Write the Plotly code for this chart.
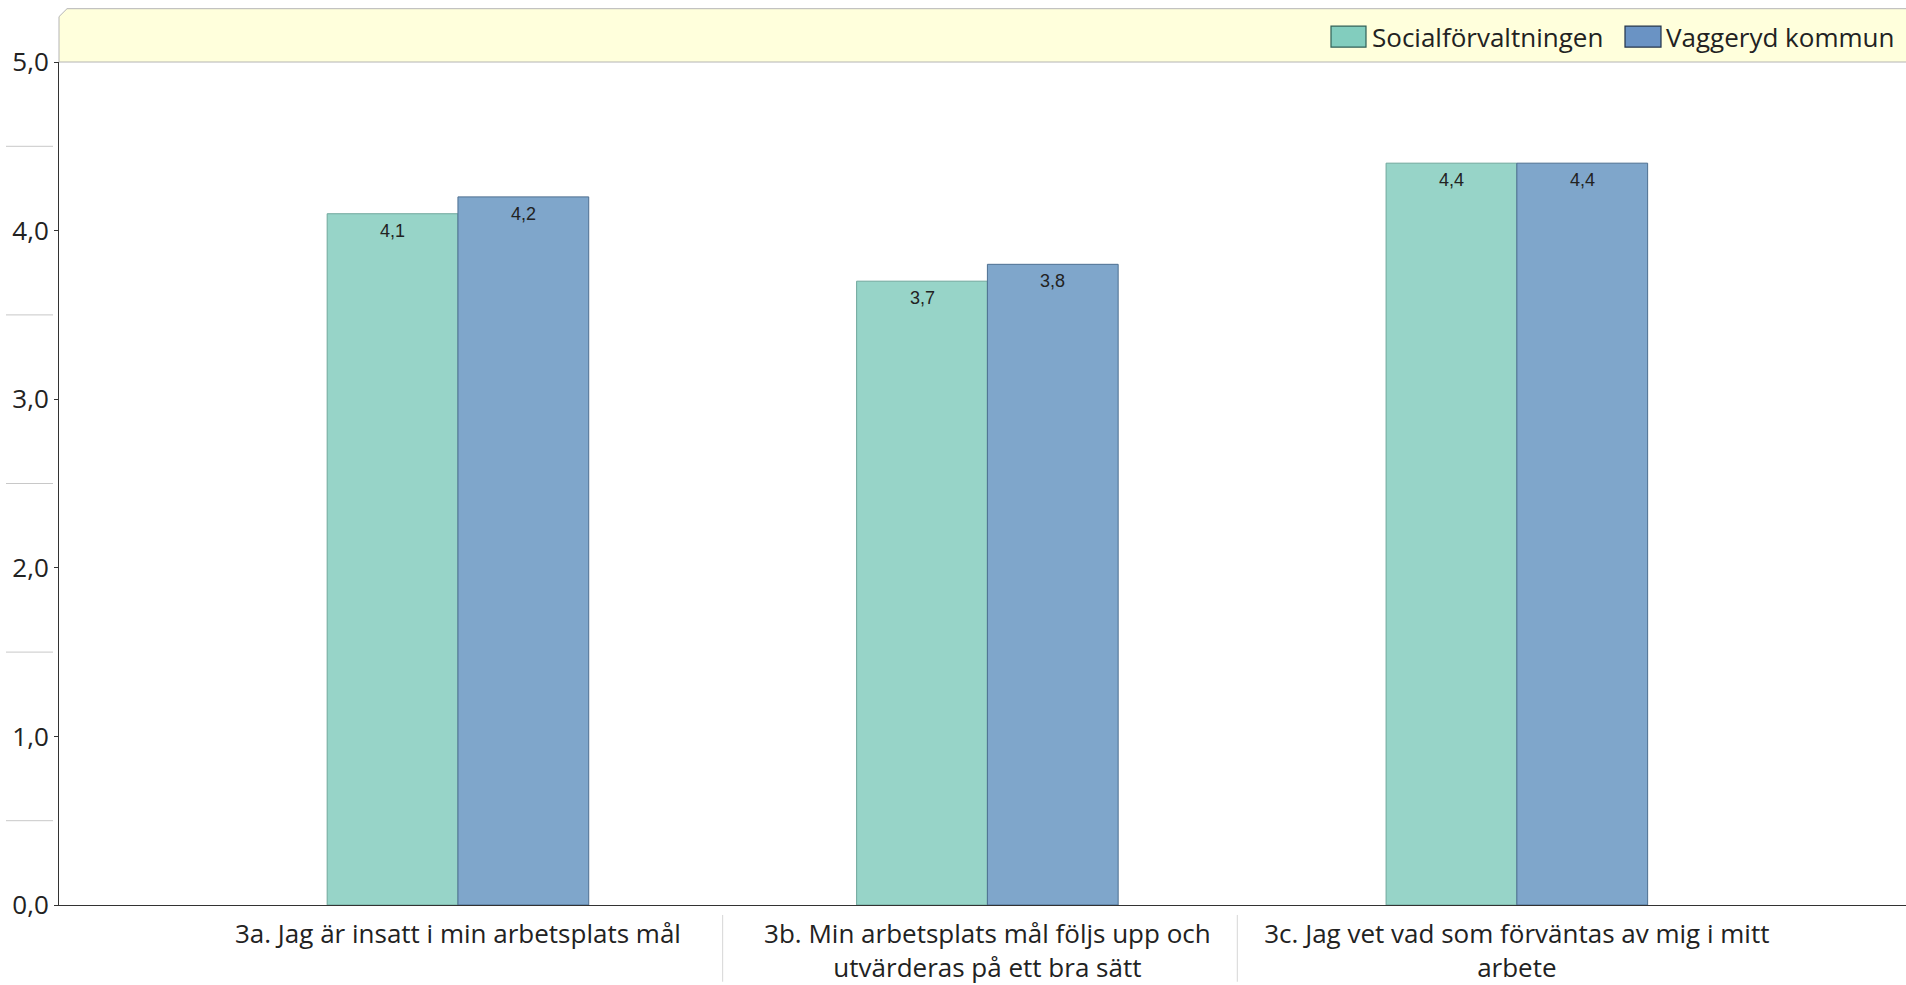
import plotly.graph_objects as go

# ---- data ----
categories = [
    "3a. Jag är insatt i min arbetsplats mål",
    "3b. Min arbetsplats mål följs upp och<br>utvärderas på ett bra sätt",
    "3c. Jag vet vad som förväntas av mig i mitt<br>arbete",
]
series_names = ["Socialförvaltningen", "Vaggeryd kommun"]
social_values = [4.1, 3.7, 4.4]
vaggeryd_values = [4.2, 3.8, 4.4]
y_tick_values = [0, 1, 2, 3, 4, 5]
y_minor_values = [0.5, 1.5, 2.5, 3.5, 4.5]
separator_positions = [0.5, 1.472]

# ---- style ----
W, H = 1906, 985
ML, MR, MT, MB = 59, 0, 62, 77
PW, PH = W - ML - MR, H - MT - MB
FONT = "Open Sans"
FS = 26
XRANGE = [-0.7535, 2.735]
BARGAP = 0.506
teal_fill, teal_line = "#97D4C8", "#6FA79C"
blue_fill, blue_line = "#7FA6CB", "#4D6F91"


def px_x(px):
    return (px - ML) / PW


def px_y(py):
    return (H - MB - py) / PH


fig = go.Figure()
series = [
    (series_names[0], social_values, teal_fill, teal_line),
    (series_names[1], vaggeryd_values, blue_fill, blue_line),
]
for name, vals, fill, line in series:
    fig.add_bar(
        x=categories, y=vals, name=name,
        marker=dict(color=fill, line=dict(color=line, width=1)),
    )

annotations = []
# value labels just inside the top of each bar
bar_w_px = (1 - BARGAP) / len(series) * PW / (XRANGE[1] - XRANGE[0])
for i, (name, vals, fill, line) in enumerate(series):
    offset = (i - (len(series) - 1) / 2) * bar_w_px
    for cat, v in zip(categories, vals):
        annotations.append(dict(
            x=cat, y=v, xref="x", yref="y", text=f"{v:.1f}".replace(".", ","),
            showarrow=False, xanchor="center", yanchor="top",
            xshift=offset, yshift=-5,
            font=dict(family="Liberation Sans", size=18, color="#222222"),
        ))

shapes = []
# legend band with chamfered corner
top = px_y(8.5)
cx, cy = 8 / PW, 8 / PH
shapes.append(dict(
    type="path", xref="paper", yref="paper", layer="below",
    path=f"M 0,1 L 0,{top - cy} L {cx},{top} L 1.01,{top} L 1.01,1 Z",
    fillcolor="#FFFFDC", line=dict(color="#B4B4B4", width=1),
))
# minor ticks left of labels
for v in y_minor_values:
    shapes.append(dict(type="line", xref="paper", yref="y",
                       x0=px_x(6), x1=px_x(53), y0=v, y1=v,
                       line=dict(color="#C8C8C8", width=1)))
# category separators
for s in separator_positions:
    shapes.append(dict(type="line", xref="x", yref="paper",
                       x0=s, x1=s, y0=px_y(918), y1=px_y(985),
                       line=dict(color="#D6D6D6", width=1)))

# manual legend
legend_items = [
    (series_names[0], 1331, 1366, 1370, "#82CDBE", "#2F5F56"),
    (series_names[1], 1625, 1661, 1664, "#6A93C4", "#22334A"),
]
for name, bx0, bx1, tx, fill, line in legend_items:
    shapes.append(dict(type="rect", xref="paper", yref="paper",
                       x0=px_x(bx0), x1=px_x(bx1), y0=px_y(47), y1=px_y(26),
                       fillcolor=fill, line=dict(color=line, width=1.2)))
    annotations.append(dict(xref="paper", yref="paper", x=px_x(tx), y=px_y(36.5),
                            text=name, showarrow=False, xanchor="left", yanchor="middle",
                            font=dict(family=FONT, size=FS, color="#222222")))

fig.update_layout(
    width=W, height=H,
    margin=dict(l=ML, r=MR, t=MT, b=MB, pad=0),
    paper_bgcolor="white", plot_bgcolor="white",
    barmode="group", bargap=BARGAP, bargroupgap=0,
    separators=", ",
    showlegend=False,
    hovermode=False,
    font=dict(family=FONT, size=FS, color="#222222"),
    shapes=shapes, annotations=annotations,
    xaxis=dict(
        range=XRANGE, showline=True, linecolor="#333333", linewidth=1,
        ticks="", showgrid=False, zeroline=False, ticklabelstandoff=6,
        tickfont=dict(family=FONT, size=FS, color="#222222"),
    ),
    yaxis=dict(
        range=[0, 5], tickvals=y_tick_values, tickformat=".1f",
        showline=True, linecolor="#333333", linewidth=1,
        ticks="outside", ticklen=4, tickcolor="#333333",
        showgrid=False, zeroline=False,
        tickfont=dict(family=FONT, size=FS, color="#222222"),
    ),
)

fig.write_html("out.html", config={"displayModeBar": False},
               post_script="document.body.style.margin='0';")
